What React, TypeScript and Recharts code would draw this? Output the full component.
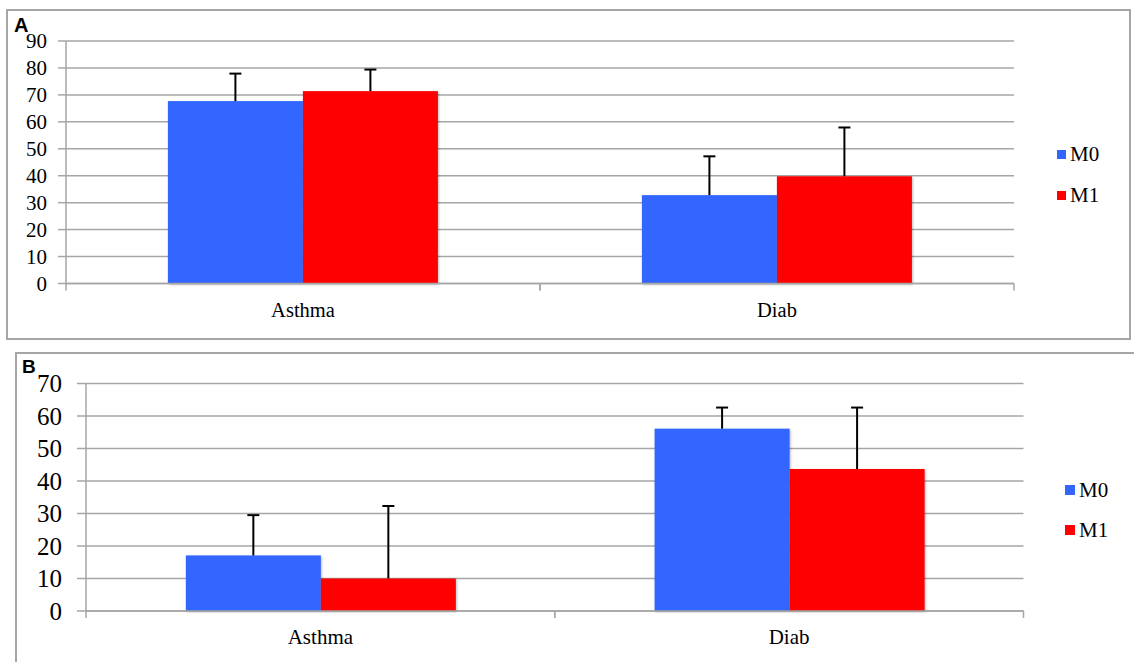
import React from 'react';
import { BarChart, Bar, XAxis, YAxis, CartesianGrid } from 'recharts';

// Shared categories
const categories = ['Asthma', 'Diab'];

// Panel A values (mean and upper error)
const panelAM0 = [67.7, 32.8];
const panelAM1 = [71.4, 39.8];
const panelAM0Err = [10.2, 14.4];
const panelAM1Err = [8.0, 18.1];
const panelATicks = [0, 10, 20, 30, 40, 50, 60, 70, 80, 90];

// Panel B values (mean and upper error)
const panelBM0 = [17.1, 56.1];
const panelBM1 = [10.0, 43.7];
const panelBM0Err = [12.4, 6.5];
const panelBM1Err = [22.3, 18.9];
const panelBTicks = [0, 10, 20, 30, 40, 50, 60, 70];

const seriesNames = ['M0', 'M1'];
const BLUE = '#3366ff';
const RED = '#ff0000';
const GRID = '#a6a6a6';
const SERIF = 'Liberation Serif, Times New Roman, serif';
const SANS = 'Liberation Sans, Arial, sans-serif';

const buildRows = (m0: number[], m1: number[], e0: number[], e1: number[]) =>
  categories.map((cat, i) => ({ cat, m0: m0[i], m1: m1[i], e0: e0[i], e1: e1[i] }));

const rowsA = buildRows(panelAM0, panelAM1, panelAM0Err, panelAM1Err);
const rowsB = buildRows(panelBM0, panelBM1, panelBM0Err, panelBM1Err);

// Bar with an upward-only error whisker, scaled from the bar's own pixel height
const makeBarShape = (errKey: string, color: string) => (props: any) => {
  const { x, y, width, height, payload, value } = props;
  const v = Array.isArray(value) ? value[1] - value[0] : value;
  const pxPerUnit = v ? height / v : 0;
  const err = payload[errKey] || 0;
  const top = y - err * pxPerUnit;
  const cx = x + width / 2;
  return (
    <g>
      <rect
        x={x}
        y={y}
        width={width}
        height={height}
        fill={color}
        style={{ filter: 'drop-shadow(1.5px 1px 1.2px rgba(0,0,0,0.28))' }}
      />
      <line x1={cx} x2={cx} y1={y} y2={top} stroke="#000" strokeWidth={2} />
      <line x1={cx - 6} x2={cx + 6} y1={top} y2={top} stroke="#000" strokeWidth={2} />
    </g>
  );
};

// Category label with tick marks at the band edges
const CategoryTick = (props: any) => {
  const { x, y, payload, width, visibleTicksCount, fontSize, baseline } = props;
  const half = width / (visibleTicksCount || categories.length) / 2;
  return (
    <g>
      <line x1={x - half} x2={x - half} y1={y} y2={y + 7} stroke={GRID} strokeWidth={1.5} />
      <line x1={x + half} x2={x + half} y1={y} y2={y + 7} stroke={GRID} strokeWidth={1.5} />
      <text x={x} y={y + baseline} textAnchor="middle" fontFamily={SERIF} fontSize={fontSize} fill="#000">
        {payload.value}
      </text>
    </g>
  );
};

// Value label on the left axis, right-aligned
const ValueTick = (props: any) => {
  const { x, y, payload, fontSize } = props;
  return (
    <text x={x} y={y} dy={fontSize * 0.34} textAnchor="end" fontFamily={SERIF} fontSize={fontSize} fill="#000">
      {payload.value}
    </text>
  );
};

type PanelProps = {
  rows: any[];
  ticks: number[];
  height: number;
  margin: { top: number; right: number; bottom: number; left: number };
  yWidth: number;
  yTickSize: number;
  yTickMargin: number;
  yFont: number;
  xFont: number;
  xBaseline: number;
  gapPct: string;
};

const Panel = (p: PanelProps) => (
  <BarChart width={1134} height={p.height} data={p.rows} margin={p.margin} barCategoryGap={p.gapPct} barGap={0}>
    <CartesianGrid vertical={false} stroke={GRID} strokeWidth={1.5} />
    <XAxis
      dataKey="cat"
      height={30}
      tickLine={false}
      tickSize={0}
      tickMargin={0}
      axisLine={{ stroke: GRID, strokeWidth: 1.5 }}
      interval={0}
      tick={(t: any) => <CategoryTick {...t} fontSize={p.xFont} baseline={p.xBaseline} />}
    />
    <YAxis
      width={p.yWidth}
      domain={[p.ticks[0], p.ticks[p.ticks.length - 1]]}
      ticks={p.ticks}
      interval={0}
      tickSize={p.yTickSize}
      tickMargin={p.yTickMargin}
      tickLine={{ stroke: GRID, strokeWidth: 1.5 }}
      axisLine={{ stroke: GRID, strokeWidth: 1.5 }}
      tick={(t: any) => <ValueTick {...t} fontSize={p.yFont} />}
    />
    <Bar dataKey="m0" name={seriesNames[0]} fill={BLUE} isAnimationActive={false} shape={makeBarShape('e0', BLUE)} />
    <Bar dataKey="m1" name={seriesNames[1]} fill={RED} isAnimationActive={false} shape={makeBarShape('e1', RED)} />
  </BarChart>
);

const LegendBlock = ({ left, top, gap, square, fontSize }: any) => (
  <div style={{ position: 'absolute', left, top, fontFamily: SERIF, fontSize, color: '#000' }}>
    {seriesNames.map((name, i) => (
      <div
        key={name}
        style={{ position: 'absolute', left: 0, top: i * gap, display: 'flex', alignItems: 'center', height: 24, whiteSpace: 'nowrap' }}
      >
        <span style={{ display: 'inline-block', width: square, height: square, background: i === 0 ? BLUE : RED, marginRight: 4 }} />
        <span style={{ lineHeight: '24px', fontFamily: SERIF }}>{name}</span>
      </div>
    ))}
  </div>
);

export default function App() {
  return (
    <div style={{ position: 'absolute', left: 0, top: 0, width: 1134, height: 662, overflow: 'hidden', background: '#fff' }}>
      {/* Panel frames */}
      <div style={{ position: 'absolute', left: 6, top: 9, width: 1125, height: 331, boxSizing: 'border-box', border: `2px solid ${GRID}` }} />
      <div style={{ position: 'absolute', left: 15, top: 352, width: 1200, height: 400, boxSizing: 'border-box', border: `2px solid ${GRID}` }} />

      <div style={{ position: 'absolute', left: 0, top: 0 }}>
        <Panel
          rows={rowsA}
          ticks={panelATicks}
          height={340}
          margin={{ top: 41, right: 120, bottom: 26.5, left: 6 }}
          yWidth={60}
          yTickSize={8}
          yTickMargin={11}
          yFont={21}
          xFont={20.5}
          xBaseline={33}
          gapPct="21.5%"
        />
      </div>
      <div style={{ position: 'absolute', left: 0, top: 340 }}>
        <Panel
          rows={rowsB}
          ticks={panelBTicks}
          height={322}
          margin={{ top: 43.5, right: 110.5, bottom: 21, left: 16 }}
          yWidth={70}
          yTickSize={9}
          yTickMargin={15}
          yFont={25}
          xFont={21}
          xBaseline={33}
          gapPct="21.3%"
        />
      </div>

      <LegendBlock left={1057} top={142} gap={41} square={9} fontSize={21} />
      <LegendBlock left={1065} top={478} gap={40} square={10} fontSize={21} />

      <div style={{ position: 'absolute', left: 14, top: 15, fontFamily: SANS, fontWeight: 'bold', fontSize: 20, lineHeight: '20px' }}>A</div>
      <div style={{ position: 'absolute', left: 22, top: 357, fontFamily: SANS, fontWeight: 'bold', fontSize: 19, lineHeight: '19px' }}>B</div>
    </div>
  );
}
